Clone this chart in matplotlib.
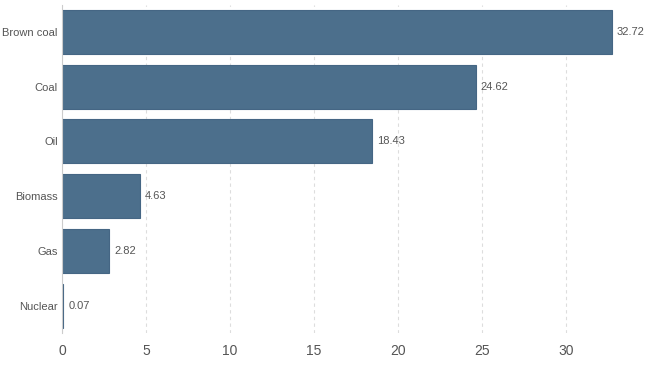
import matplotlib
matplotlib.use("Agg")
from matplotlib import pyplot as plt

sources = ["Brown coal", "Coal", "Oil", "Biomass", "Gas", "Nuclear"]
values = [32.72, 24.62, 18.43, 4.63, 2.82, 0.07]

fig = plt.figure(figsize=(6.5, 3.66), dpi=100)
ax = fig.add_axes([62 / 650, 1 - 333 / 366, (640 - 62) / 650, (333 - 4.5) / 366])

y_pos = list(range(len(sources)))
ax.barh(y_pos, values, height=0.8, color="#4c6f8c", edgecolor="#456684", linewidth=0.8, zorder=2)

for y, v in zip(y_pos, values):
    ax.text(v + 0.3, y, f"{v:.2f}", va="center", ha="left", fontsize=8, color="#555555", family="Liberation Sans")

ax.set_yticks(y_pos)
ax.set_yticklabels(sources, fontsize=8, color="#555555", family="Liberation Sans")
ax.set_ylim(len(sources) - 0.5, -0.5)
ax.set_xlim(0, (640 - 62) / 16.8)
ax.set_xticks([0, 5, 10, 15, 20, 25, 30])
ax.tick_params(axis="x", labelsize=10, colors="#555555", length=0, pad=8)
ax.tick_params(axis="y", length=0, pad=3)
for lbl in ax.get_xticklabels():
    lbl.set_family("Liberation Sans")

ax.grid(axis="x", linestyle=(0, (3, 3)), color="#dddddd", linewidth=0.8, zorder=0)
for side in ["top", "right", "bottom"]:
    ax.spines[side].set_visible(False)
ax.spines["left"].set_color("#cccccc")
ax.spines["left"].set_linewidth(0.8)

plt.savefig("out.png", dpi=100)
